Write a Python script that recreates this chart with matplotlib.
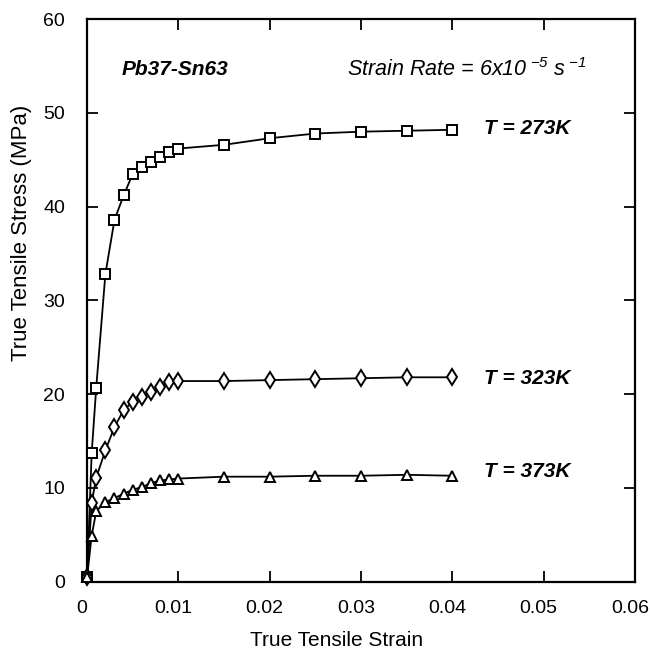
import matplotlib

matplotlib.use("Agg")
import matplotlib.pyplot as plt  # noqa: E402
from matplotlib.ticker import FuncFormatter  # noqa: E402
from matplotlib.transforms import ScaledTranslation  # noqa: E402

plt.rcParams["font.family"] = ["Liberation Sans", "DejaVu Sans"]
plt.rcParams["mathtext.fontset"] = "custom"
plt.rcParams["mathtext.rm"] = "Liberation Sans:italic"
plt.rcParams["mathtext.it"] = "Liberation Sans:italic"

# true strain readings shared by all three temperatures
strain = [0, 0.0005, 0.001, 0.002, 0.003, 0.004, 0.005, 0.006, 0.007,
          0.008, 0.009, 0.01, 0.015, 0.02, 0.025, 0.03, 0.035, 0.04]

stress_273 = [0.5, 13.7, 20.7, 32.8, 38.6, 41.2, 43.5, 44.2, 44.8,
              45.3, 45.8, 46.2, 46.6, 47.3, 47.8, 48.0, 48.1, 48.2]
stress_323 = [0.5, 8.4, 11.1, 14.0, 16.5, 18.3, 19.2, 19.7, 20.2,
              20.8, 21.3, 21.4, 21.4, 21.5, 21.6, 21.7, 21.8, 21.8]
stress_373 = [0.5, 4.9, 7.5, 8.5, 8.9, 9.4, 9.8, 10.1, 10.5,
              10.8, 10.9, 11.0, 11.2, 11.2, 11.3, 11.3, 11.4, 11.3]

series = [
    ("T = 273K", stress_273, "s", 7, 48.3),
    ("T = 323K", stress_323, "d", 8, 21.7),
    ("T = 373K", stress_373, "^", 7, 11.8),
]

x_ticks = [0, 0.01, 0.02, 0.03, 0.04, 0.05, 0.06]
y_ticks = [0, 10, 20, 30, 40, 50, 60]

fig = plt.figure(figsize=(6.5, 6.61), dpi=100)
ax = fig.add_axes([0.134, 0.12, 0.843, 0.851])

for label, ys, marker, ms, ylab in series:
    ax.plot(strain, ys, color="black", lw=1.3, marker=marker, ms=ms,
            mfc="white", mec="black", mew=1.4, clip_on=False, zorder=3)
    ax.text(0.0435, ylab, label, fontsize=15, fontweight="bold",
            fontstyle="italic", va="center", ha="left")

ax.text(0.0038, 54.6, "Pb37-Sn63", fontsize=15, fontweight="bold",
        fontstyle="italic", va="center", ha="left")
ax.text(0.0285, 54.6,
        r"Strain Rate = 6x10$^{\ \mathregular{-5}}$ s$^{\ \mathregular{-1}}$",
        fontsize=15.5, fontstyle="italic", va="center", ha="left")

ax.set_xlim(0, 0.06)
ax.set_ylim(0, 60)
ax.set_xticks(x_ticks)
ax.set_yticks(y_ticks)
ax.xaxis.set_major_formatter(FuncFormatter(lambda v, _: "0" if v == 0 else f"{v:.2f}"))
ax.tick_params(direction="in", length=8, width=1.3, labelsize=14,
               top=True, right=True)
ax.tick_params(axis="x", pad=13)
ax.tick_params(axis="y", pad=16)
shift = ScaledTranslation(-5 / 100, 0, fig.dpi_scale_trans)
for lab in ax.get_xticklabels():
    lab.set_transform(lab.get_transform() + shift)
for sp in ax.spines.values():
    sp.set_linewidth(1.6)

ax.set_xlabel("True Tensile Strain", fontsize=15)
ax.set_ylabel("True Tensile Stress (MPa)", fontsize=16)
ax.xaxis.set_label_coords(0.456, -0.088)
ax.yaxis.set_label_coords(-0.10, 0.62)

fig.savefig("out.png", dpi=100)
